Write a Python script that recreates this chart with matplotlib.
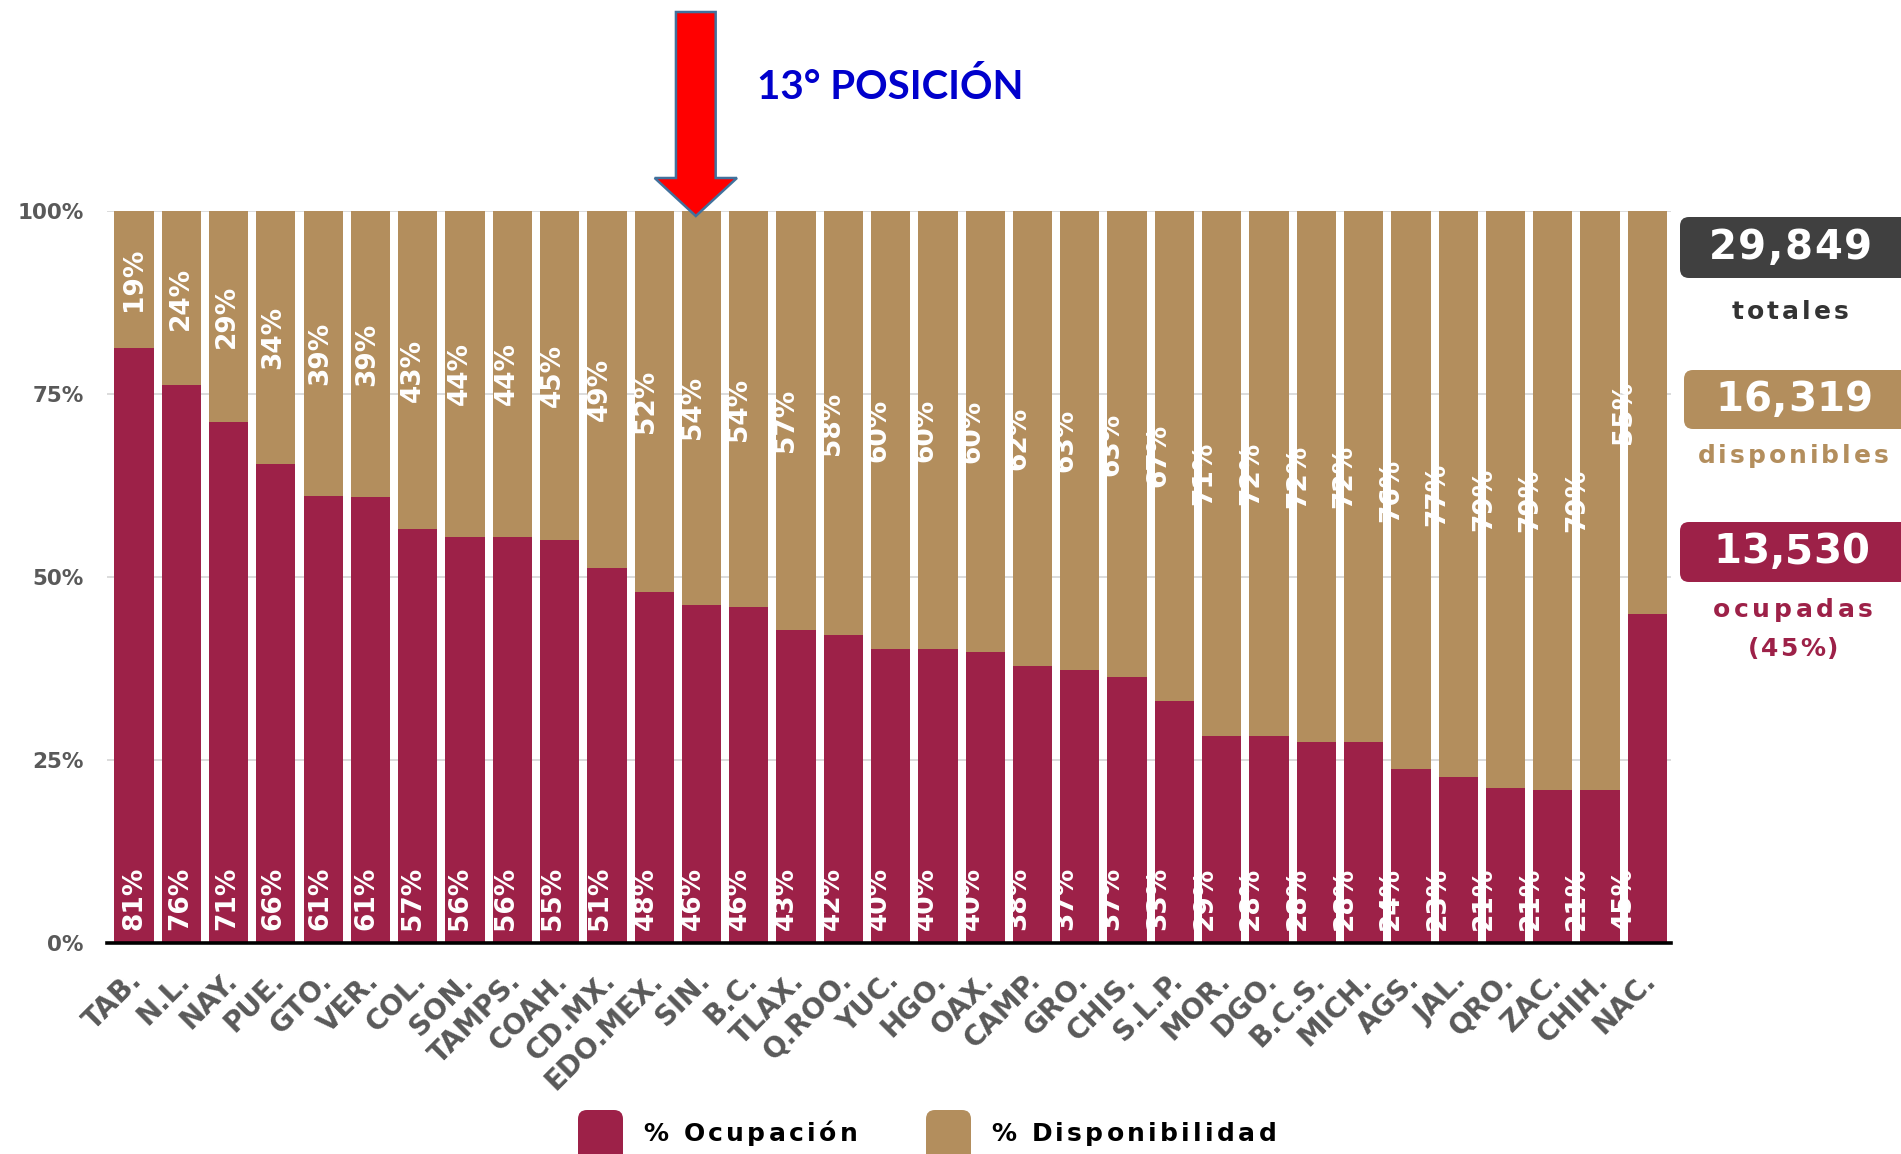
import matplotlib
matplotlib.use("Agg")
import matplotlib.pyplot as plt
from matplotlib.patches import FancyBboxPatch, Polygon
from matplotlib.transforms import IdentityTransform, blended_transform_factory
import numpy as np

# ---------------- data ----------------
estados = ["TAB.", "N.L.", "NAY.", "PUE.", "GTO.", "VER.", "COL.", "SON.", "TAMPS.",
           "COAH.", "CD.MX.", "EDO.MEX.", "SIN.", "B.C.", "TLAX.", "Q.ROO.", "YUC.",
           "HGO.", "OAX.", "CAMP.", "GRO.", "CHIS.", "S.L.P.", "MOR.", "DGO.", "B.C.S.",
           "MICH.", "AGS.", "JAL.", "QRO.", "ZAC.", "CHIH.", "NAC."]
ocupacion = [81.3, 76.2, 71.2, 65.4, 61.1, 60.9, 56.5, 55.5, 55.5, 55.1, 51.2, 48.0,
             46.2, 45.9, 42.7, 42.1, 40.1, 40.1, 39.7, 37.9, 37.3, 36.3, 33.1, 28.3,
             28.3, 27.5, 27.5, 23.8, 22.7, 21.2, 20.9, 20.9, 45.0]
disponibilidad = [100 - v for v in ocupacion]
etiq_ocup = ["81%", "76%", "71%", "66%", "61%", "61%", "57%", "56%", "56%", "55%", "51%",
             "48%", "46%", "46%", "43%", "42%", "40%", "40%", "40%", "38%", "37%", "37%",
             "33%", "29%", "28%", "28%", "28%", "24%", "23%", "21%", "21%", "21%", "45%"]
etiq_disp = ["19%", "24%", "29%", "34%", "39%", "39%", "43%", "44%", "44%", "45%", "49%",
             "52%", "54%", "54%", "57%", "58%", "60%", "60%", "60%", "62%", "63%", "63%",
             "67%", "71%", "72%", "72%", "72%", "76%", "77%", "79%", "79%", "79%", "55%"]
y_ticks = [0, 25, 50, 75, 100]
y_tick_labels = ["0%", "25%", "50%", "75%", "100%"]
total_camas = "29,849"
camas_disponibles = "16,319"
camas_ocupadas = "13,530"
pct_ocupadas = "(45%)"
posicion = 13
titulo_posicion = "13° POSICIÓN"
leyenda = ["% Ocupación", "% Disponibilidad"]

# ---------------- style ----------------
CRIMSON = "#9D2148"
TAN = "#B38E5D"
DARK = "#404040"
GRAY = "#595959"
BOLD = "DejaVu Sans"

W, H = 1901, 1154
fig = plt.figure(figsize=(W / 100, H / 100), dpi=100)
ax = fig.add_axes([107 / W, 1 - 943 / H, (1671 - 107) / W, (943 - 211) / H])
renderer = fig.canvas.get_renderer()

x = np.arange(len(estados))
ax.bar(x, ocupacion, width=0.83, color=CRIMSON, zorder=2, linewidth=0)
ax.bar(x, disponibilidad, bottom=ocupacion, width=0.83, color=TAN, zorder=2, linewidth=0)
ax.set_xlim(-0.57, len(estados) - 0.5)
ax.set_ylim(0, 100)

ax.set_yticks(y_ticks)
ax.set_yticklabels(y_tick_labels, fontsize=15.5, fontweight="bold", color=GRAY, family=BOLD)
ax.tick_params(axis="y", length=0, pad=17)
ax.set_xticks([])
ax.yaxis.grid(True, color="#D9D9D9", linewidth=1.3, zorder=0)
ax.set_axisbelow(True)
for s in ["top", "right", "left"]:
    ax.spines[s].set_visible(False)
ax.spines["bottom"].set_color("black")
ax.spines["bottom"].set_linewidth(2.6)
ax.spines["bottom"].set_zorder(3)

# category labels (rotated)
trans_lab = blended_transform_factory(ax.transData, ax.transAxes)
for i, name in enumerate(estados):
    ax.text(i - 0.12, -0.032, name, transform=trans_lab, rotation=45, ha="right", va="top",
            rotation_mode="anchor", fontsize=20, fontweight="bold", color=GRAY, family=BOLD,
            clip_on=False)

# value labels
n = len(estados)
for i in range(n):
    dx = -0.5 * i / (n - 1)
    ax.text(i + dx, 1.8, etiq_ocup[i], rotation=90, ha="center", va="bottom",
            color="white", fontsize=19, fontweight="bold", family=BOLD, zorder=4)
    ax.text(i + dx, (ocupacion[i] + 100) / 2, etiq_disp[i], rotation=90, ha="center",
            va="center", color="white", fontsize=19, fontweight="bold", family=BOLD, zorder=4)

# arrow marking position
xa = posicion - 1 - 0.12
trans_ar = blended_transform_factory(ax.transData, ax.transAxes)
ytop = 1 + (211 - 12) / 732
ybase = 1 + (211 - 178) / 732
ytip = 1 - 5 / 732
sw, hw = 0.42, 0.87
arrow = Polygon([(xa - sw, ytop), (xa + sw, ytop), (xa + sw, ybase), (xa + hw, ybase),
                 (xa, ytip), (xa - hw, ybase), (xa - sw, ybase)], closed=True,
                facecolor="#FF0000", edgecolor="#41719C", linewidth=1.8,
                transform=trans_ar, clip_on=False, zorder=6)
ax.add_patch(arrow)


def fx(px):
    return px / W


def fy(py):
    return 1 - py / H


def text_width(s, **kw):
    t = fig.text(0, 0, s, **kw)
    w = t.get_window_extent(renderer).width
    t.remove()
    return w


def tracked_text(xp, yp, s, track, ha="center", **kw):
    ref = text_width("ll", **kw)
    offs = [text_width("l" + s[:k] + "l", **kw) - ref for k in range(len(s))]
    total = text_width(s, **kw) + track * (len(s) - 1)
    x0 = xp - total / 2 if ha == "center" else xp
    for k, ch in enumerate(s):
        if ch == " ":
            continue
        fig.text(fx(x0 + offs[k] + k * track), fy(yp), ch, ha="left", va="center", **kw)


fig.text(fx(890), fy(87), titulo_posicion, ha="center", va="center", fontsize=29,
         fontweight="bold", color="#0000CC", family="Lato")


# right side boxes
def box(x0, y0, x1, y1, color):
    p = FancyBboxPatch((x0, H - y1), x1 - x0, y1 - y0,
                       boxstyle="round,pad=0,rounding_size=9",
                       transform=IdentityTransform(), facecolor=color, edgecolor="none")
    fig.add_artist(p)


box(1680, 217, 1930, 278, DARK)
tracked_text(1790, 248, total_camas, 1.5, fontsize=29, fontweight="bold",
             color="white", family=BOLD)
tracked_text(1790, 312, "totales", 3.0, fontsize=18, fontweight="bold",
             color="#333333", family=BOLD)

box(1684, 370, 1930, 429, TAN)
tracked_text(1794, 400, camas_disponibles, 0.5, fontsize=29, fontweight="bold",
             color="white", family=BOLD)
tracked_text(1793, 456, "disponibles", 3.0, fontsize=18, fontweight="bold",
             color=TAN, family=BOLD)

box(1680, 522, 1930, 582, CRIMSON)
tracked_text(1791, 552, camas_ocupadas, 0.0, fontsize=29, fontweight="bold",
             color="white", family=BOLD)
tracked_text(1793, 610, "ocupadas", 3.6, fontsize=18, fontweight="bold",
             color=CRIMSON, family=BOLD)
tracked_text(1793, 649, pct_ocupadas, 2.0, fontsize=18, fontweight="bold",
             color=CRIMSON, family=BOLD)

# legend
for (sx, col, lab, tx) in [(578, CRIMSON, leyenda[0], 643), (926, TAN, leyenda[1], 991)]:
    box(sx, 1110, sx + 45, 1170, col)
    tracked_text(tx, 1134, lab, 3.3, ha="left", fontsize=18, fontweight="bold",
                 color="black", family=BOLD)

fig.savefig("out.png", dpi=100)
